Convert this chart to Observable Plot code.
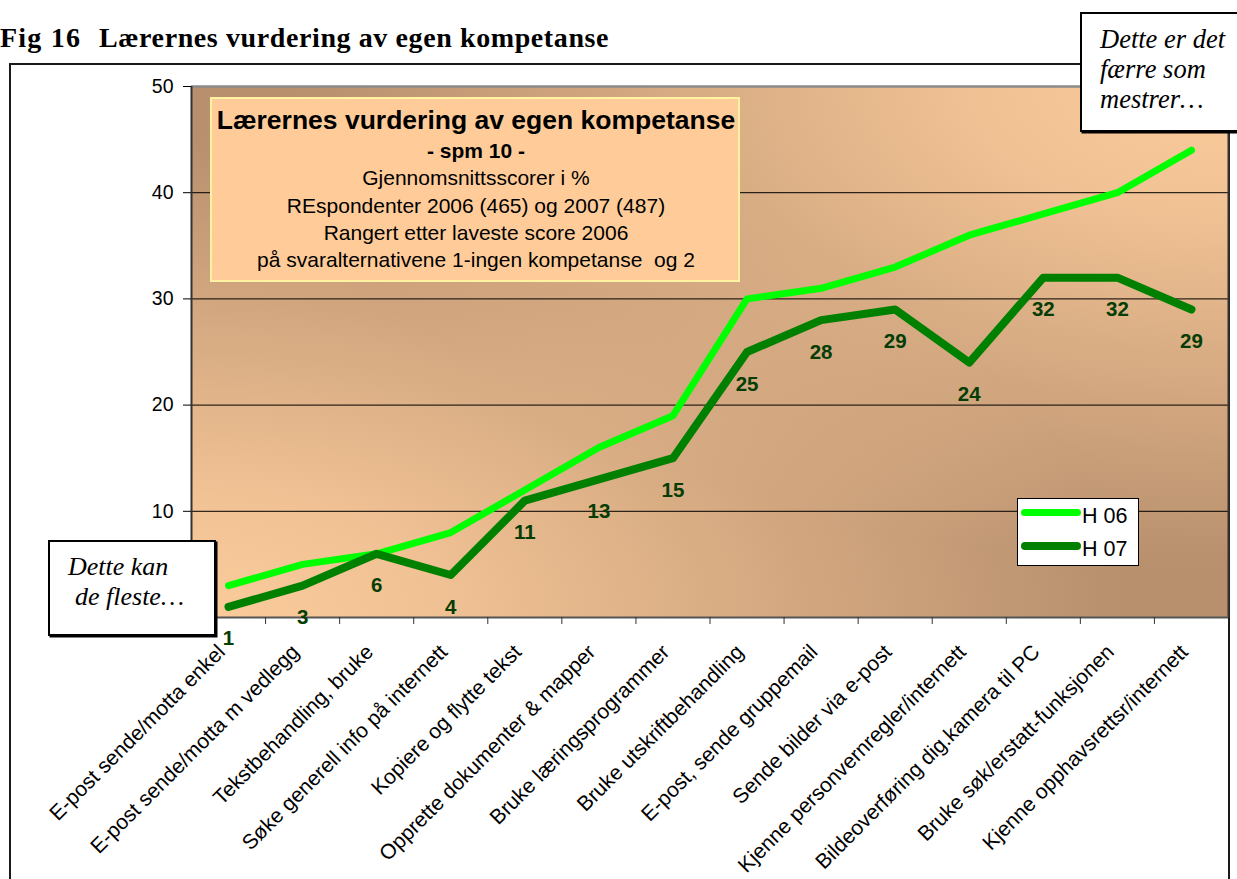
<!DOCTYPE html>
<html>
<head>
<meta charset="utf-8">
<script src="https://cdn.jsdelivr.net/npm/d3@7"></script>
<script src="https://cdn.jsdelivr.net/npm/@observablehq/plot@0.6"></script>
<style>
  html, body { margin: 0; padding: 0; background: #fff; }
  #wrap { position: relative; width: 1237px; height: 879px; overflow: hidden; }
  #wrap svg { position: absolute; left: 0; top: 0; z-index: 1; }
  .box { position: absolute; box-sizing: border-box; z-index: 2; }
</style>
</head>
<body>
<div id="wrap"></div>
<script>
// ---------- data ----------
const categories = [
  "E-post sende/motta enkel",
  "E-post sende/motta m vedlegg",
  "Tekstbehandling, bruke",
  "Søke generell info på internett",
  "Kopiere og flytte tekst",
  "Opprette dokumenter & mapper",
  "Bruke læringsprogrammer",
  "Bruke utskriftbehandling",
  "E-post, sende gruppemail",
  "Sende bilder via e-post",
  "Kjenne personvernregler/internett",
  "Bildeoverføring dig.kamera til PC",
  "Bruke søk/erstatt-funksjonen",
  "Kjenne opphavsrettsr/internett"
];
const h06 = [3, 5, 6, 8, 12, 16, 19, 30, 31, 33, 36, 38, 40, 44];
const h07 = [1, 3, 6, 4, 11, 13, 15, 25, 28, 29, 24, 32, 32, 29];
const seriesNames = ["H 06", "H 07"];
const seriesColors = ["#00ff00", "#008000"];
const yTicks = [0, 10, 20, 30, 40, 50];
const yTickLabels = [10, 20, 30, 40, 50];
const figTitle = ["Fig 16", "Lærernes vurdering av egen kompetanse"];
const boxLines = [
  "Lærernes vurdering av egen kompetanse",
  "- spm 10 -",
  "Gjennomsnittsscorer i %",
  "REspondenter 2006 (465) og 2007 (487)",
  "Rangert etter laveste score 2006",
  "på svaralternativene 1-ingen kompetanse  og 2"
];
const noteLow = ["Dette kan", "de fleste…"];
const noteHigh = ["Dette er det", "færre som", "mestrer…"];

// ---------- table ----------
const rows06 = h06.map((v, i) => ({i, value: v}));
const rows07 = h07.map((v, i) => ({i, value: v}));
const catRows = categories.map((c, i) => ({i, c}));

const SANS = '"Liberation Sans", Arial, sans-serif';
const SERIF = '"Liberation Serif", "Times New Roman", serif';
const wrap = document.getElementById("wrap");

// outer frame
const frame = document.createElement("div");
frame.className = "box";
Object.assign(frame.style, {left: "9px", top: "63px", width: "1221px", height: "900px", border: "2px solid #1a1a1a", zIndex: 0});
wrap.appendChild(frame);

const plot = Plot.plot({
  width: 1237,
  height: 879,
  marginLeft: 191,
  marginRight: 9,
  marginTop: 86,
  marginBottom: 262,
  style: {fontFamily: SANS, fontSize: "19.5px", background: "transparent", overflow: "visible", color: "#000"},
  x: {type: "linear", domain: [0, categories.length], label: null},
  y: {domain: [0, 50], label: null},
  marks: [
    Plot.frame({fill: "#b8906e"}),
    Plot.frame({fill: "url(#glowBL)"}),
    Plot.frame({fill: "url(#glowTR)"}),
    Plot.ruleY([10, 20, 30, 40], {stroke: "#000", strokeWidth: 1}),
    Plot.ruleY([50], {stroke: "#8a8a8a", strokeWidth: 2.5}),
    Plot.ruleX([0], {stroke: "#333", strokeWidth: 2}),
    Plot.ruleX([categories.length], {stroke: "#333", strokeWidth: 2}),
    Plot.ruleY([0], {stroke: "#555", strokeWidth: 2}),
    Plot.axisY({ticks: yTicks, tickSize: 8, tickFormat: () => "", stroke: "#000"}),
    Plot.axisY({ticks: yTickLabels, tickSize: 0, tickPadding: 18, tickFormat: d => String(d)}),
    Plot.axisX({ticks: d3.range(1, categories.length), tickSize: 7, tickFormat: () => "", stroke: "#333"}),
    Plot.text(catRows, {
      x: d => d.i + 0.5, text: "c", frameAnchor: "bottom", rotate: -45,
      textAnchor: "end", lineAnchor: "middle", dx: -7, dy: 31,
      fontSize: 21, fill: "#000"
    }),
    Plot.line(rows06, {x: d => d.i + 0.5, y: "value", stroke: seriesColors[0], strokeWidth: 7, strokeLinejoin: "round", strokeLinecap: "round"}),
    Plot.line(rows07, {x: d => d.i + 0.5, y: "value", stroke: seriesColors[1], strokeWidth: 8, strokeLinejoin: "round", strokeLinecap: "round"}),
    Plot.text(rows07, {x: d => d.i + 0.5, y: "value", text: d => String(d.value), dy: 32, fontWeight: "bold", fontSize: 20.5, fill: "#053d05"})
  ]
});

// gradient definitions for plot background
const defs = d3.select(plot).insert("defs", ":first-child");
function glow(id, cx, cy) {
  const g = defs.append("radialGradient").attr("id", id).attr("cx", cx).attr("cy", cy).attr("r", 0.9);
  g.append("stop").attr("offset", 0).attr("stop-color", "#fbcb9b").attr("stop-opacity", 1);
  g.append("stop").attr("offset", 0.25).attr("stop-color", "#fbcb9b").attr("stop-opacity", 0.85);
  g.append("stop").attr("offset", 1).attr("stop-color", "#fbcb9b").attr("stop-opacity", 0);
}
glow("glowBL", 0, 1);
glow("glowTR", 1, 0);
wrap.appendChild(plot);

// ---------- text helper ----------
function place(txt, x, base, o = {}) {
  const size = o.size || 20;
  const fam = o.family || SANS;
  const ratio = fam === SERIF ? 0.8375 : 0.8465;
  const d = document.createElement("div");
  d.textContent = txt;
  Object.assign(d.style, {
    position: "absolute", left: x + "px", top: (base - ratio * size) + "px",
    fontSize: size + "px", lineHeight: size + "px", fontFamily: fam,
    fontWeight: o.weight || "normal", fontStyle: o.style || "normal",
    color: o.color || "#000", whiteSpace: "pre", zIndex: 3,
    letterSpacing: (o.spacing || 0) + "px"
  });
  if (o.anchor === "middle") d.style.transform = "translateX(-50%)";
  wrap.appendChild(d);
  return d;
}
function box(x, y, w, h, st) {
  const b = document.createElement("div");
  b.className = "box";
  Object.assign(b.style, {left: x + "px", top: y + "px", width: w + "px", height: h + "px"}, st);
  wrap.appendChild(b);
  return b;
}

// figure title
place(figTitle[0], 0, 47, {family: SERIF, size: 28, weight: "bold", spacing: 1.2});
place(figTitle[1], 99, 47, {family: SERIF, size: 28, weight: "bold", spacing: 0.6});

// inner title box
box(210, 97, 530, 185, {background: "#ffcc99", border: "2px solid #fff2a0"});
place(boxLines[0], 476, 129.5, {size: 26.5, weight: "bold", anchor: "middle"});
place(boxLines[1], 476, 158, {size: 21, weight: "bold", anchor: "middle"});
place(boxLines[2], 476, 185, {size: 21, anchor: "middle"});
place(boxLines[3], 476, 212.7, {size: 21, anchor: "middle"});
place(boxLines[4], 476, 240, {size: 21, anchor: "middle"});
place(boxLines[5], 476, 267, {size: 21, anchor: "middle"});

// legend
box(1017, 498, 122, 68, {background: "#fff", border: "1.5px solid #000"});
box(1021, 509, 60, 7, {background: seriesColors[0], borderRadius: "3.5px", zIndex: 3});
box(1021, 542, 60, 8, {background: seriesColors[1], borderRadius: "4px", zIndex: 3});
place(seriesNames[0], 1082, 524, {size: 21.5});
place(seriesNames[1], 1082, 557, {size: 21.5});

// callouts
box(48, 540, 168, 96, {background: "#fff", border: "2px solid #000", boxShadow: "1.5px 1.5px 0 #000"});
place(noteLow[0], 68, 576, {family: SERIF, size: 26, style: "italic"});
place(noteLow[1], 75, 606, {family: SERIF, size: 26, style: "italic"});

box(1080, 12, 170, 120, {background: "#fff", border: "2px solid #000", boxShadow: "1.5px 1.5px 0 #000"});
place(noteHigh[0], 1100, 48, {family: SERIF, size: 26.5, style: "italic"});
place(noteHigh[1], 1100, 78, {family: SERIF, size: 26.5, style: "italic"});
place(noteHigh[2], 1100, 108, {family: SERIF, size: 26.5, style: "italic"});
</script>
</body>
</html>
